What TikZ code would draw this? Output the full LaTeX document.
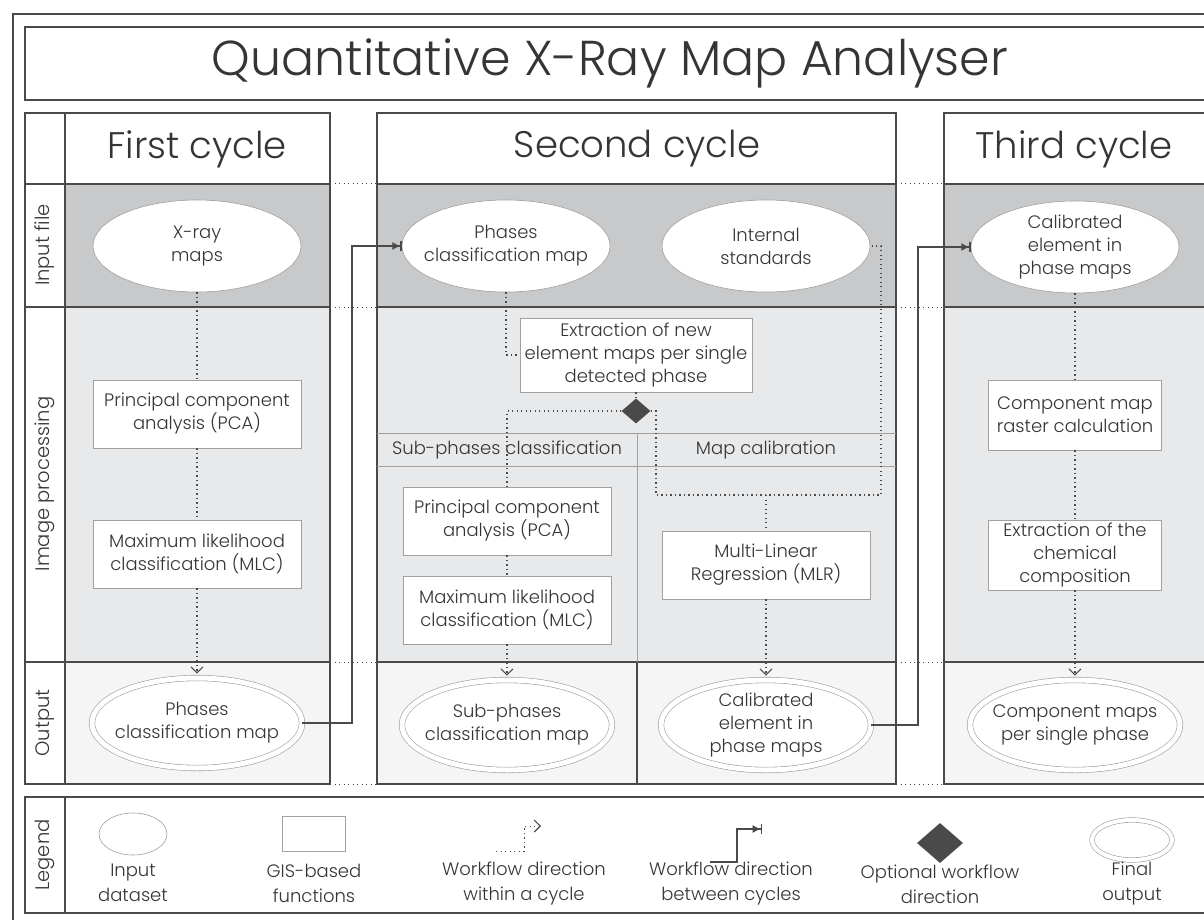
\documentclass[tikz,border=0pt]{standalone}
\usepackage{fontspec}
\IfFontExistsTF{Poppins Light}{\setmainfont{Poppins Light}}{\setmainfont{Poppins}}
\usetikzlibrary{arrows.meta,shapes.geometric,calc}
\definecolor{frame}{HTML}{4A4A4A}
\definecolor{txt}{HTML}{353535}
\definecolor{rowin}{HTML}{C8C9CB}
\definecolor{rowip}{HTML}{E8E9EB}
\definecolor{rowout}{HTML}{F5F5F6}
\definecolor{boxline}{HTML}{A0A0A0}
\begin{document}
\begin{tikzpicture}[x=1pt,y=-1pt,
  frm/.style={draw=frame,line width=1.3pt},
  thinln/.style={draw=boxline,line width=0.9pt},
  nodefont/.style={font=\fontsize{18}{23}\selectfont,text=txt},
  dat/.style={ellipse,draw=boxline,fill=white,line width=0.6pt,minimum width=208pt,minimum height=92pt,inner xsep=-25pt,inner ysep=-8pt,align=center,nodefont},
  fun/.style={rectangle,draw=boxline,fill=white,line width=0.9pt,minimum width=208pt,minimum height=68pt,inner sep=0pt,align=center,nodefont},
  fin/.style={ellipse,draw=boxline,double=white,double distance=5pt,line width=0.6pt,fill=white,minimum width=210pt,minimum height=90pt,inner xsep=-25pt,inner ysep=-8pt,align=center,nodefont},
  opt/.style={diamond,fill=frame,draw=none,inner sep=0pt,minimum width=29pt,minimum height=25pt},
  flow/.style={draw=frame,line width=1.3pt,dash pattern=on 1.3pt off 3.2pt},
  flowar/.style={flow,-{Straight Barb[length=6pt,width=12pt,line width=1.1pt]}},
  cyc/.style={draw=frame,line width=1.3pt,-{Latex[length=8pt,width=8pt]Bar[width=10pt,line width=1.3pt]}},
  head/.style={font=\fontsize{37}{42}\selectfont,text=txt,inner sep=0pt},
  rowlbl/.style={rotate=90,font=\fontsize{19.5}{24}\selectfont,text=txt,inner sep=0pt},
  lbl/.style={align=center,font=\fontsize{18}{25}\selectfont,text=txt,inner sep=0pt}
]
\useasboundingbox (0,0) rectangle (1204,920);
\clip (0,0) rectangle (1204,920);
\fill[white] (0,0) rectangle (1204,920);
% outer frame and title
\draw[frm] (13,14) rectangle (1260,960);
\draw[frm] (25,27) rectangle (1250,100);
\node[font=\fontsize{49}{55}\selectfont,text=txt,inner sep=0pt] (title) at (610,63) {Quantitative X-Ray Map Analyser};
% label column
\draw[frm] (25,113) rectangle (65,784);
\foreach \yy in {184,307,662} \draw[frm] (25,\yy) -- (65,\yy);
\node[rowlbl] (l1) at (45,245) {Input file};
\node[rowlbl] (l2) at (45,484) {Image processing};
\node[rowlbl] (l3) at (45,723) {Output};
% cycle columns
\foreach \xa/\xb in {65/330,377/896,944/1250}{
  \fill[white] (\xa,113) rectangle (\xb,184);
  \fill[rowin] (\xa,184) rectangle (\xb,307);
  \fill[rowip] (\xa,307) rectangle (\xb,662);
  \fill[rowout] (\xa,662) rectangle (\xb,784);
  \draw[frm] (\xa,113) rectangle (\xb,784);
  \foreach \yy in {184,307,662} \draw[frm] (\xa,\yy) -- (\xb,\yy);
}
% dotted gap lines
\foreach \yy in {184,307,662,784}{
  \draw[flow,line width=1pt] (330,\yy) -- (377,\yy);
  \draw[flow,line width=1pt] (896,\yy) -- (944,\yy);
}
% second cycle sub headers
\draw[thinln] (377,433) -- (896,433);
\draw[thinln] (377,466) -- (896,466);
\draw[thinln] (637,433) -- (637,662);
\draw[frm] (637,662) -- (637,784);
\node[nodefont,inner sep=0pt] (sh1) at (507,450) {Sub-phases classification};
\node[nodefont,inner sep=0pt] (sh2) at (766,450) {Map calibration};
% headers
\node[head] (h1) at (197,149) {First cycle};
\node[head] (h2) at (637,149) {Second cycle};
\node[head] (h3) at (1074,149) {Third cycle};
% first cycle
\node[dat] (x1) at (197,246) {X-ray\\maps};
\node[fun] (pca1) at (197,414) {Principal component\\analysis (PCA)};
\node[fun] (mlc1) at (197,554) {Maximum likelihood\\classification (MLC)};
\node[fin] (o1) at (197,723) {Phases\\classification map};
% second cycle
\node[dat] (p2) at (506,246) {Phases\\classification map};
\node[dat] (is) at (766,246) {Internal\\standards};
\node[fun,minimum width=232pt,minimum height=74pt] (ext) at (636,355) {Extraction of new\\element maps per single\\detected phase};
\node[opt] (dia) at (636,411) {};
\node[fun] (pca2) at (507,521) {Principal component\\analysis (PCA)};
\node[fun] (mlc2) at (507,610) {Maximum likelihood\\classification (MLC)};
\node[fun] (mlr) at (766,565) {Multi-Linear\\Regression (MLR)};
\node[fin] (o2) at (507,725) {Sub-phases\\classification map};
\node[fin] (o3) at (766,725) {Calibrated\\element in\\phase maps};
% third cycle
\node[dat] (c3) at (1075,247) {Calibrated\\element in\\phase maps};
\node[fun,minimum width=173pt,minimum height=70pt] (rc) at (1075,415) {Component map\\raster calculation};
\node[fun,minimum width=173pt,minimum height=70pt] (ch) at (1075,555) {Extraction of the\\chemical\\composition};
\node[fin] (o4) at (1075,725) {Component maps\\per single phase};
% flows within cycles
\draw[flow] (x1.south) -- (pca1.north);
\draw[flow] (pca1.south) -- (mlc1.north);
\draw[flowar,shorten >=4pt] (mlc1.south) -- (o1.north);
\draw[flow] (p2.south) |- (ext.west);
\draw[flow] (ext.south) -- (dia.north);
\draw[flow] (dia.west) -| (pca2.north);
\coordinate (k1) at (656,495);
\coordinate (k2) at (881,495);
\draw[flow] (dia.east) -| (k1) -- (k2) |- (is.east);
\draw[flow] (mlr.north |- k1) -- (mlr.north);
\draw[flow] (pca2.south) -- (mlc2.north);
\draw[flowar,shorten >=4pt] (mlc2.south) -- (o2.north);
\draw[flowar,shorten >=4pt] (mlr.south) -- (o3.north);
\draw[flow] (c3.south) -- (rc.north);
\draw[flow] (rc.south) -- (ch.north);
\draw[flowar,shorten >=4pt] (ch.south) -- (o4.north);
% flows between cycles
\coordinate (j1) at (352,723);
\coordinate (j2) at (918,725);
\draw[cyc] (o1.east) -- (o1.east -| j1) -- (j1 |- p2.west) -- (p2.west);
\draw[cyc] (o3.east) -- (o3.east -| j2) -- (j2 |- c3.west) -- (c3.west);
% legend
\draw[frm] (25,797) rectangle (1250,913);
\draw[frm] (65,797) -- (65,913);
\node[rowlbl] (lg) at (45,855) {Legend};
\node[dat,minimum width=68pt,minimum height=42pt,inner sep=0pt] (lg1) at (133,834) {};
\node[lbl] (lt1) at (133,883) {Input\\dataset};
\node[fun,minimum width=63pt,minimum height=35pt] (lg2) at (314,834) {};
\node[lbl] (lt2) at (314,883) {GIS-based\\functions};
\coordinate (la) at (496,851);
\coordinate (lb) at (524,851);
\coordinate (lc) at (524,826);
\coordinate (ld) at (541,826);
\draw[flowar,line width=1pt] (la) -- (lb) -- (lc) -- (ld);
\node[lbl] (lt3) at (524,883) {Workflow direction\\within a cycle};
\coordinate (ma) at (710,862);
\coordinate (mb) at (737,862);
\coordinate (mc) at (737,829);
\coordinate (md) at (762,829);
\draw[cyc] (ma) -- (mb) -- (mc) -- (md);
\node[lbl] (lt4) at (731,883) {Workflow direction\\between cycles};
\node[opt,minimum width=46pt,minimum height=40pt] (lg5) at (940,843) {};
\node[lbl] (lt5) at (940,884) {Optional workflow\\direction};
\node[fin,minimum width=80pt,minimum height=40pt,double distance=4pt,inner sep=0pt] (lg6) at (1132,840) {};
\node[lbl] (lt6) at (1132,884) {Final\\output};
\end{tikzpicture}
\end{document}
